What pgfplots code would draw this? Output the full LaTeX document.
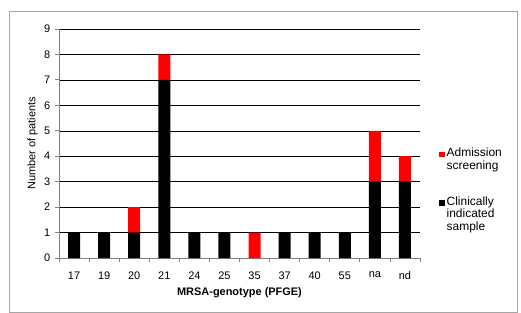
\documentclass[border=0pt]{standalone}
\usepackage{fontspec}
\setmainfont{Liberation Sans}
\usepackage{pgfplots}
\pgfplotsset{compat=1.18}
\pgfplotstableread{
x black red
0 1 0
1 1 0
2 1 1
3 7 1
4 1 0
5 1 0
6 0 1
7 1 0
8 1 0
9 1 0
10 3 2
11 3 1
}\datatable
\begin{document}
\fontsize{11}{13}\selectfont
\begin{tikzpicture}
\useasboundingbox (-59bp,-55bp) rectangle (462bp,258bp);
\draw[black!35, line width=0.8bp] (-50bp,-54bp) rectangle (458bp,247bp);
\begin{axis}[
  at={(0bp,0bp)}, anchor=south west,
  scale only axis, width=361bp, height=229bp,
  ybar stacked, bar width=12bp,
  xmin=-0.5, xmax=11.5, ymin=0, ymax=9,
  axis x line*=bottom, axis y line*=left,
  axis line style={black!50, line width=0.8bp},
  ymajorgrids, major grid style={black, line width=0.5bp},
  ytick={0,...,9},
  xtick={0,...,11},
  xticklabels={17,19,20,21,24,25,35,37,40,55,na,nd},
  minor xtick={-0.5,0.5,...,11.5},
  tick align=outside,
  major tick length=4bp, minor tick length=4bp,
  x tick style={draw=none},
  minor x tick style={draw=black!50, line width=0.8bp},
  y tick style={black!50, line width=0.8bp},
  /pgf/number format/assume math mode=true,
  ticklabel style={font=\fontsize{11}{13}\selectfont},
  xticklabel style={yshift=-6bp},
  yticklabel style={xshift=-1bp},
  xlabel={\textbf{MRSA-genotype (PFGE)}},
  ylabel={Number of patients},
  label style={font=\fontsize{11}{13}\selectfont},
  xlabel style={yshift=0bp},
  ylabel style={yshift=-1bp},
  reverse legend,
  legend style={draw=none, fill=none, inner sep=0pt, at={(1.0526,0.490)}, anchor=north west,
    cells={anchor=north west, align=left, inner xsep=2bp}, row sep=21.5bp,
    font=\fontsize{12}{12.5}\selectfont},
  legend image code/.code={\fill[#1, draw=none] (0bp,-11.3bp) rectangle (5.5bp,-5.8bp);},
]
\addplot[fill=black, draw=none] table[x=x, y=black] {\datatable};
\addplot[fill=red, draw=none] table[x=x, y=red] {\datatable};
\legend{Clinically\\indicated\\sample, Admission\\screening}
\end{axis}
\end{tikzpicture}
\end{document}
